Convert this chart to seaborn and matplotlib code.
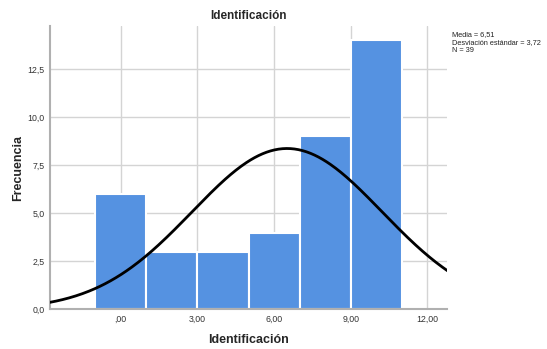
import numpy as np
import pandas as pd
import matplotlib
matplotlib.use("Agg")
import matplotlib.pyplot as plt
import seaborn as sns

# Data
bin_centers = [0, 2, 4, 6, 8, 10]
counts = [6, 3, 3, 4, 9, 14]
bin_edges = [-1, 1, 3, 5, 7, 9, 11]
media = 6.51
desv = 3.72
n_total = 39
x_ticks = [0, 3, 6, 9, 12]
x_ticklabels = [",00", "3,00", "6,00", "9,00", "12,00"]
y_ticks = [0, 2.5, 5.0, 7.5, 10.0, 12.5]
y_ticklabels = ["0,0", "2,5", "5,0", "7,5", "10,0", "12,5"]

sns.set_theme(style="white")
plt.rcParams['font.family'] = ['Liberation Sans', 'DejaVu Sans']

fig = plt.figure(figsize=(5.47, 3.49), dpi=100)
ax = fig.add_axes([0.0914, 0.1132, 0.7258, 0.8123])

df = pd.DataFrame({"x": bin_centers, "w": counts})
sns.histplot(data=df, x="x", weights="w", bins=bin_edges, ax=ax,
             color="#5592e1", alpha=1.0, edgecolor="white", linewidth=1.5, zorder=2)

xs = np.linspace(-2.8, 12.8, 300)
binw = bin_edges[1] - bin_edges[0]
ys = n_total * binw / (desv * np.sqrt(2 * np.pi)) * np.exp(-0.5 * ((xs - media) / desv) ** 2)
sns.lineplot(x=xs, y=ys, ax=ax, color="black", linewidth=2.0, zorder=3)

ax.set_xlim(-2.77, 12.77)
ax.set_ylim(0, 14.73)
ax.set_xticks(x_ticks)
ax.set_xticklabels(x_ticklabels)
ax.set_yticks(y_ticks)
ax.set_yticklabels(y_ticklabels)
ax.tick_params(axis="both", length=0, labelsize=6.3, colors="#333333", pad=4)
ax.grid(True, color="#d4d4d4", linewidth=1.0, zorder=0)
ax.set_axisbelow(True)
for s in ["top", "right"]:
    ax.spines[s].set_visible(False)
for s in ["left", "bottom"]:
    ax.spines[s].set_color("#b0b0b0")
    ax.spines[s].set_linewidth(1.5)

ax.set_xlabel("Identificación", fontsize=9, fontweight="bold", labelpad=7)
ax.set_ylabel("Frecuencia", fontsize=9, fontweight="bold", labelpad=2)
ax.set_title("Identificación", fontsize=8.5, fontweight="bold", pad=5)

fig.text(452 / 547, 1 - 31 / 349, "Media = 6,51\nDesviación estándar = 3,72\nN = 39",
         fontsize=5.3, va="top", ha="left", color="#222222", linespacing=1.15)

fig.savefig("out.png", dpi=100)
